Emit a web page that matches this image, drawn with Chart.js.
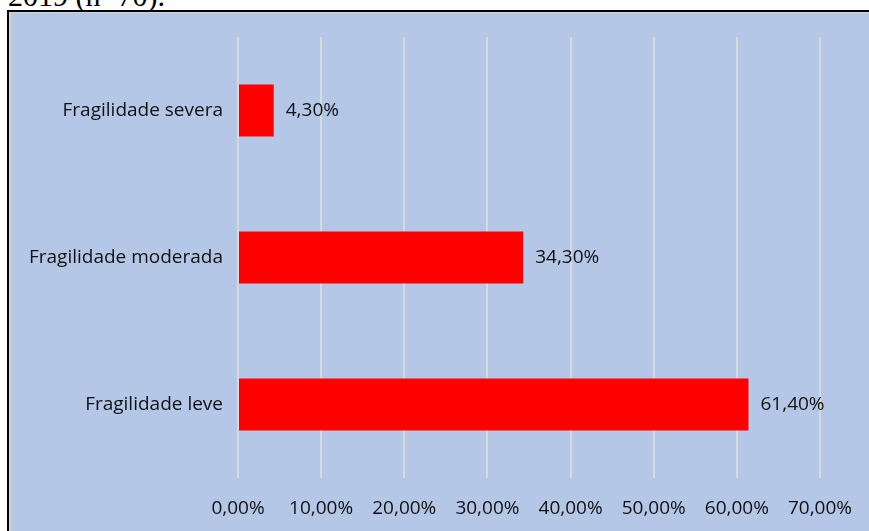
<!DOCTYPE html>
<html>
<head>
<meta charset="utf-8">
<script src="https://cdn.jsdelivr.net/npm/chart.js@4.4.0/dist/chart.umd.min.js"></script>
<style>
  html, body { margin: 0; padding: 0; background: #fff; overflow: hidden; }
  #caption { position: absolute; left: 8px; top: -19px; font: 30px "Liberation Serif", serif; line-height: 30px; color: #000; white-space: nowrap; }
  #frame { position: absolute; left: 7px; top: 10px; width: 900px; height: 560px; border-left: 2px solid #000; border-top: 2px solid #000; }
  #inner { position: absolute; left: 0; top: 0; right: 0; bottom: 0; border-left: 2px solid #d4d4d4; border-top: 1px solid #d4d4d4; background: #b4c7e7; }
  #wrap { position: absolute; left: 0; top: 0; width: 869px; height: 531px; }
</style>
</head>
<body>
<div id="caption">2019 (n=70).</div>
<div id="frame"><div id="inner"></div></div>
<div id="wrap"><canvas id="myChart"></canvas></div>
<script>
const categories = ['Fragilidade severa', 'Fragilidade moderada', 'Fragilidade leve'];
const percentages = [4.3, 34.3, 61.4];
const tickValues = [0, 10, 20, 30, 40, 50, 60, 70];

const redColor = '#ff0000';
const gridColor = '#d9d9d9';
const textColor = '#111111';
const fontFamily = '"Open Sans", Lato, sans-serif';
const fontSize = 19;

const fmt = v => v.toFixed(2).replace('.', ',') + '%';

// data labels next to the bars
const barLabels = {
    id: 'barLabels',
    afterDatasetsDraw(chart) {
        const ctx = chart.ctx;
        const meta = chart.getDatasetMeta(0);
        ctx.save();
        ctx.font = fontSize + 'px ' + fontFamily;
        ctx.fillStyle = textColor;
        ctx.textAlign = 'left';
        ctx.textBaseline = 'middle';
        meta.data.forEach((bar, i) => {
            ctx.fillText(fmt(percentages[i]), bar.x + 12, bar.y);
        });
        ctx.restore();
    }
};

const ctx = document.getElementById('myChart');

new Chart(ctx, {
    type: 'bar',
    data: {
        labels: categories,
        datasets: [{
            data: percentages,
            backgroundColor: redColor,
            borderWidth: 0,
            categoryPercentage: 1,
            barPercentage: 0.354
        }]
    },
    options: {
        indexAxis: 'y',
        responsive: true,
        maintainAspectRatio: false,
        animation: false,
        layout: { padding: { left: 0, right: 49, top: 37, bottom: 0 } },
        plugins: {
            legend: { display: false },
            tooltip: { enabled: false }
        },
        scales: {
            x: {
                min: 0,
                max: 70,
                afterBuildTicks: scale => { scale.ticks = tickValues.map(v => ({ value: v })); },
                afterFit: scale => {
                    scale.height = 53;
                    scale.paddingLeft = 0;
                    scale.paddingRight = 0;
                },
                grid: { color: gridColor, lineWidth: 2, drawTicks: false },
                border: { display: false },
                ticks: {
                    padding: 19,
                    color: textColor,
                    font: { size: fontSize, family: fontFamily },
                    callback: v => fmt(v)
                }
            },
            y: {
                afterFit: scale => { scale.width = 238; },
                grid: { display: false, drawTicks: false },
                border: { display: false },
                ticks: {
                    padding: 15,
                    color: textColor,
                    font: { size: fontSize, family: fontFamily }
                }
            }
        }
    },
    plugins: [barLabels]
});
</script>
</body>
</html>
